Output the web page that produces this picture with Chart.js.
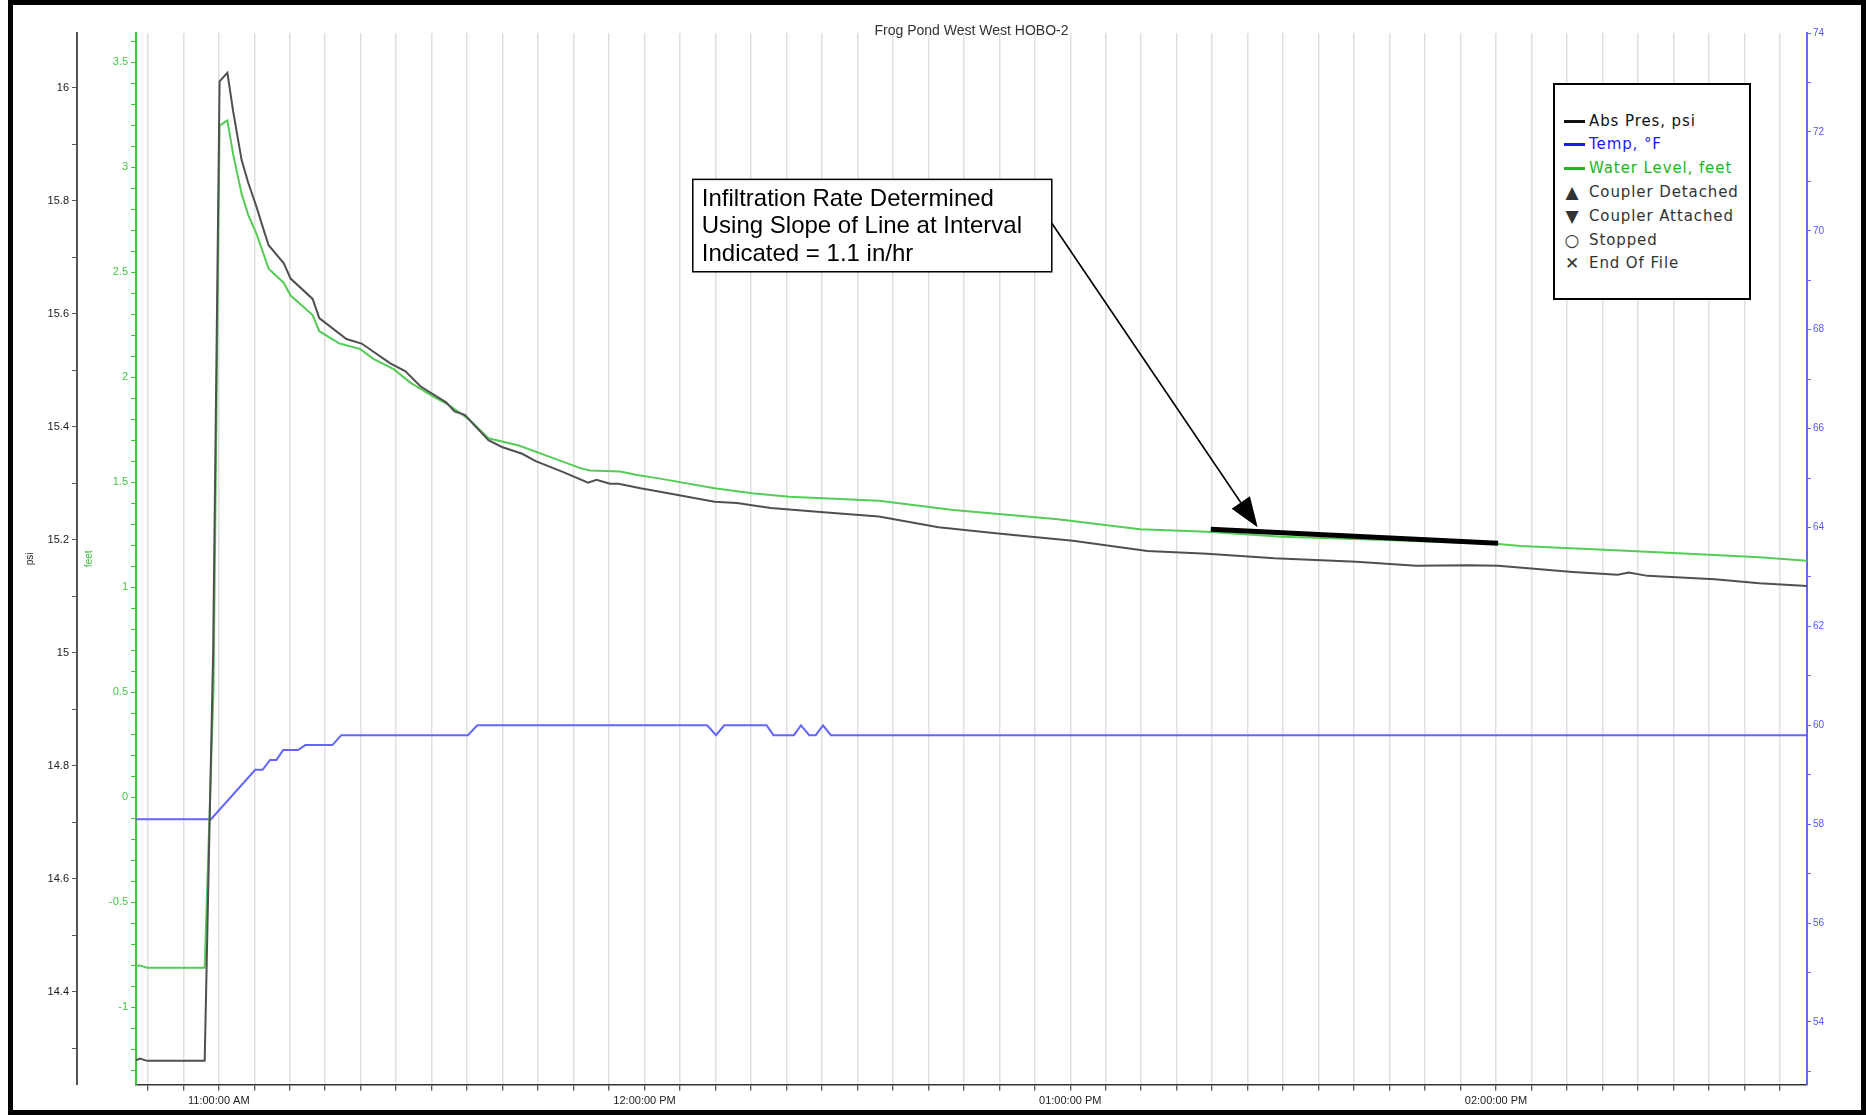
<!DOCTYPE html>
<html><head><meta charset="utf-8">
<script src="https://cdn.jsdelivr.net/npm/chart.js@4.4.1/dist/chart.umd.min.js"></script>
<style>
html,body{margin:0;padding:0;background:#fff;}
#wrap{position:relative;width:1866px;height:1115px;overflow:hidden;background:#fff;}
#c{position:absolute;left:0;top:0;}
#frame{position:absolute;left:8px;top:0;width:1858px;height:1115px;box-sizing:border-box;border:5px solid #000;pointer-events:none;}
#legend{position:absolute;left:1553px;top:83px;width:198px;height:217px;box-sizing:border-box;border:2px solid #000;background:#fff;font-family:'DejaVu Sans',sans-serif;font-size:15px;letter-spacing:0.9px;}
.row{position:absolute;left:0;width:190px;height:22px;}
.sw{position:absolute;left:9px;top:10px;width:21px;height:3px;}
.mk{position:absolute;left:7px;top:0;width:20px;text-align:center;line-height:22px;font-size:17px;color:#333;letter-spacing:0;}
.tx{position:absolute;left:34px;top:0;line-height:22px;white-space:nowrap;}
</style></head>
<body>
<div id="wrap">
<canvas id="c" width="1866" height="1115"></canvas>
<div id="legend"></div>
<div id="frame"></div>
</div>
<script>
// ---- data (x = minutes after 10:00) ----
const timeP = [48.33,48.87,49.9,58.01,59.2,60.11,61.21,62.02,63.21,64.16,65.36,66.30,67.02,69.16,70.12,73.22,74.16,77.98,80.13,84.17,86.31,88.45,92.03,93.22,94.66,98.00,99.90,102.76,104.66,108.47,112.05,113.23,115.13,116.33,119.43,122.19,129.87,133.03,135.14,137.77,145.66,153.02,161.43,169.84,180.36,190.88,199.30,208.75,220.32,228.74,236.11,240.31,250.82,257.14,258.72,261.35,270.81,277.12,283.83];
const psiValues = [14.279,14.282,14.278,14.278,15.0,16.011,16.026,15.958,15.872,15.831,15.787,15.749,15.721,15.689,15.662,15.626,15.592,15.555,15.547,15.512,15.498,15.471,15.443,15.427,15.421,15.376,15.364,15.352,15.339,15.320,15.301,15.306,15.299,15.299,15.291,15.285,15.267,15.265,15.261,15.256,15.248,15.241,15.222,15.211,15.198,15.180,15.175,15.167,15.161,15.154,15.155,15.154,15.143,15.138,15.142,15.136,15.130,15.123,15.118];

const timeW = [48.33,48.87,49.9,58.01,59.25,60.11,61.21,62.02,63.21,64.16,65.36,67.02,69.16,70.12,73.22,74.16,77.02,79.89,81.79,84.65,87.03,90.37,92.27,95.13,98.00,102.28,107.04,110.85,112.29,116.57,118.95,122.19,129.87,135.14,140.40,153.02,163.53,178.26,189.83,199.30,209.81,224.54,240.31,243.47,256.08,270.81,277.12,283.83];
const waterValues = [-0.803,-0.800,-0.811,-0.811,0.51,3.199,3.224,3.062,2.875,2.773,2.680,2.518,2.450,2.390,2.297,2.220,2.161,2.136,2.088,2.039,1.974,1.906,1.872,1.804,1.710,1.676,1.617,1.569,1.557,1.552,1.535,1.518,1.472,1.448,1.432,1.413,1.369,1.324,1.277,1.265,1.241,1.226,1.207,1.197,1.178,1.154,1.143,1.127];

const timeT = [48.33,58.90,65.13,66.17,67.22,68.12,69.08,71.16,72.19,76.01,77.25,95.11,96.43,128.82,130.07,131.24,137.20,138.16,141.06,142.04,143.22,144.12,145.15,146.27,283.83];
const tempValues = [58.1,58.1,59.1,59.1,59.3,59.3,59.5,59.5,59.6,59.6,59.8,59.8,60.0,60.0,59.8,60.0,60.0,59.8,59.8,60.0,59.8,59.8,60.0,59.8,59.8];

const slopeTimes = [199.8,240.3];
const slopeValues = [1.277,1.210];

const hourTicks = [60,120,180,240];
const hourLabels = ['11:00:00 AM','12:00:00 PM','01:00:00 PM','02:00:00 PM'];
const titleText = 'Frog Pond West West HOBO-2';
const noteLines = ['Infiltration Rate Determined','Using Slope of Line at Interval','Indicated = 1.1 in/hr'];
const noteAnchor = [126.8, 2.943];   // minutes, feet
const arrowFrom = [177.4, 2.734];
const arrowTo = [206.4, 1.286];

const legendNames = ['Abs Pres, psi','Temp, °F','Water Level, feet','Coupler Detached','Coupler Attached','Stopped','End Of File'];
const legendSymbols = ['line','line','line','▲','▼','○','✕'];
const legendColors = ['#111111','#1a1aff','#22b422','#333333','#333333','#333333','#333333'];

// ---- legend ----
const lg = document.getElementById('legend');
const rowTops = [24.7,48,72.3,95.7,119.7,144,167.3];
legendNames.forEach((n,i)=>{
  const r = document.createElement('div'); r.className='row'; r.style.top = rowTops[i]+'px';
  if(legendSymbols[i]==='line'){ const s=document.createElement('div'); s.className='sw'; s.style.background=legendColors[i]; r.appendChild(s);} 
  else { const m=document.createElement('div'); m.className='mk'; m.textContent=legendSymbols[i]; r.appendChild(m);} 
  const t=document.createElement('div'); t.className='tx'; t.textContent=n; t.style.color=legendColors[i]; r.appendChild(t);
  lg.appendChild(r);
});

const pts = (xs,ys)=>xs.map((x,i)=>({x:x,y:ys[i]}));

const notePlugin = {
  id:'note',
  afterDraw(chart){
    const ctx = chart.ctx, xs = chart.scales.x, ys = chart.scales.yFeet;
    const bx = xs.getPixelForValue(noteAnchor[0]), by = ys.getPixelForValue(noteAnchor[1]);
    ctx.save();
    ctx.fillStyle='#fff'; ctx.fillRect(bx,by,359,92.4);
    ctx.strokeStyle='#000'; ctx.lineWidth=1.5; ctx.strokeRect(bx,by,359,92.4);
    ctx.fillStyle='#000'; ctx.font='24px "Liberation Sans", Arial, sans-serif'; ctx.textBaseline='alphabetic'; ctx.textAlign='left';
    noteLines.forEach((t,i)=>ctx.fillText(t,bx+9,by+26.7+i*27.3));
    const ax = xs.getPixelForValue(arrowFrom[0]), ay = ys.getPixelForValue(arrowFrom[1]);
    const tx = xs.getPixelForValue(arrowTo[0]), ty = ys.getPixelForValue(arrowTo[1]);
    const dx = tx-ax, dy = ty-ay, L = Math.hypot(dx,dy), ux = dx/L, uy = dy/L;
    const hl = 30, hw = 11;
    const bxp = tx-ux*hl, byp = ty-uy*hl;
    ctx.strokeStyle='#000'; ctx.lineWidth=1.6;
    ctx.beginPath(); ctx.moveTo(ax,ay); ctx.lineTo(bxp,byp); ctx.stroke();
    ctx.beginPath(); ctx.moveTo(tx,ty); ctx.lineTo(bxp-uy*hw, byp+ux*hw); ctx.lineTo(bxp+uy*hw, byp-ux*hw); ctx.closePath(); ctx.fillStyle='#000'; ctx.fill();
    ctx.restore();
  }
};

const tickFont = {family:'"Liberation Sans", Arial, sans-serif', size:11};

new Chart(document.getElementById('c'), {
  type:'line',
  data:{datasets:[
    {label:'slope', data:pts(slopeTimes,slopeValues), yAxisID:'yFeet', borderColor:'#000', borderWidth:5, pointRadius:0, borderCapStyle:'butt', tension:0},
    {label:'Abs Pres, psi', data:pts(timeP,psiValues), yAxisID:'yPsi', borderColor:'#505050', borderWidth:2, pointRadius:0, tension:0},
    {label:'Water Level, feet', data:pts(timeW,waterValues), yAxisID:'yFeet', borderColor:'#55cc55', borderWidth:2, pointRadius:0, tension:0},
    {label:'Temp, °F', data:pts(timeT,tempValues), yAxisID:'yTemp', borderColor:'#6464ff', borderWidth:2, pointRadius:0, tension:0}
  ]},
  options:{
    responsive:false, animation:false, devicePixelRatio:1,
    layout:{padding:{left:13,right:19,top:0,bottom:0}},
    plugins:{
      legend:{display:false}, tooltip:{enabled:false},
      title:{display:true, text:titleText, fullSize:false, color:'#333', font:{family:'"Liberation Sans", Arial, sans-serif', size:14, weight:'normal'}, padding:{top:23,bottom:-6.8}}
    },
    scales:{
      x:{type:'linear', position:'bottom', min:48.33, max:283.83,
        afterFit(s){ s.height = 30.4; },
        border:{display:true, color:'#333', width:1.5},
        grid:{color:'#e0e0e0', lineWidth:1.5, drawTicks:true, tickLength:6, tickColor:'#222', tickWidth:1},
        ticks:{stepSize:5, includeBounds:false, autoSkip:false, maxRotation:0, minRotation:0, padding:4, color:'#222', font:tickFont,
          callback(v){ const r=Math.round(v); if(Math.abs(v-r)>1e-6) return ''; const i=hourTicks.indexOf(r); return i>=0?hourLabels[i]:''; }}
      },
      yPsi:{type:'linear', position:'left', weight:2, min:14.236, max:16.0964,
        afterFit(s){ s.width = 64; },
        border:{display:true, color:'#555', width:2},
        grid:{drawOnChartArea:false, drawTicks:true, tickLength:5, tickColor:'#555'},
        ticks:{stepSize:0.1, includeBounds:false, autoSkip:false, padding:3, color:'#222', font:tickFont,
          callback(v){ const k=Math.round(v*10); return k%2===0?String(k/10):''; }},
        title:{display:true, text:'psi', color:'#222', font:{family:'"Liberation Sans", Arial, sans-serif', size:10}, padding:{top:11,bottom:0}}
      },
      yFeet:{type:'linear', position:'left', weight:1, min:-1.3676, max:3.640,
        afterFit(s){ s.width = 59; },
        border:{display:true, color:'#33cc33', width:2},
        grid:{drawOnChartArea:false, drawTicks:true, tickLength:5, tickColor:'#33cc33'},
        ticks:{stepSize:0.1, includeBounds:false, autoSkip:false, padding:3, color:'#44c444', font:tickFont,
          callback(v){ const k=Math.round(v*10); return k%5===0?String(k/10):''; }},
        title:{display:true, text:'feet', color:'#33bb33', font:{family:'"Liberation Sans", Arial, sans-serif', size:10}, padding:{top:6,bottom:0}}
      },
      yTemp:{type:'linear', position:'right', min:52.734, max:74,
        afterFit(s){ s.width = 40; },
        border:{display:true, color:'#6666ff', width:2},
        grid:{drawOnChartArea:false, drawTicks:true, tickLength:4, tickColor:'#6666ff'},
        ticks:{stepSize:1, includeBounds:false, autoSkip:false, padding:2, color:'#5555ff', font:{family:'"Liberation Sans", Arial, sans-serif', size:10},
          callback(v){ const k=Math.round(v); return k%2===0?String(k):''; }}
      }
    }
  },
  plugins:[notePlugin]
});
</script>
</body></html>
